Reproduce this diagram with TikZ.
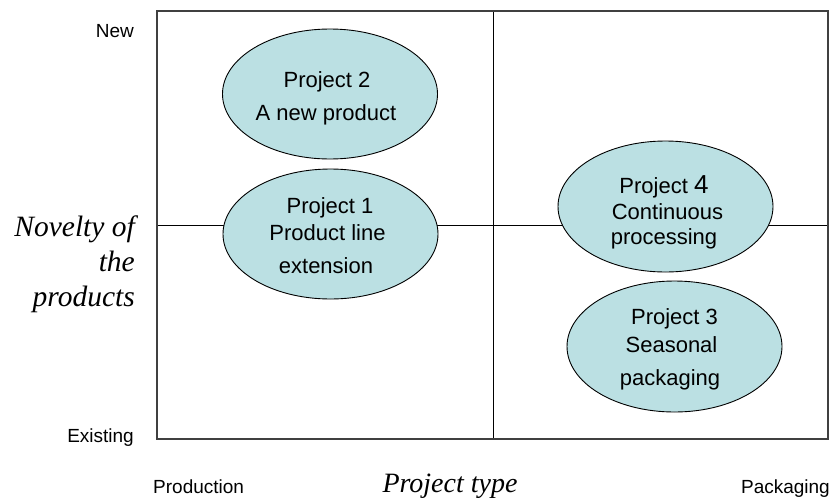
\documentclass[tikz,border=0pt]{standalone}
\usepackage{fontspec}
\setmainfont{Liberation Sans}
\newfontfamily\serifit{Liberation Serif}
\usetikzlibrary{shapes.geometric}
\definecolor{ellfill}{RGB}{187,224,227}
\definecolor{boxgray}{RGB}{64,64,64}
\tikzset{
  ell/.style={ellipse, draw=black, line width=0.9pt, fill=ellfill, inner sep=0pt, minimum width=215pt, minimum height=130pt},
  etxt/.style={anchor=base, inner sep=0pt, font=\fontsize{22}{26}\selectfont},
  small/.style={inner sep=0pt, font=\fontsize{19}{23}\selectfont},
  axis/.style={inner sep=0pt, font=\serifit\itshape\fontsize{28}{35}\selectfont},
  novax/.style={inner sep=0pt, font=\serifit\itshape\fontsize{29.5}{35}\selectfont},
  divider/.style={draw=black, line width=0.9pt},
  frame/.style={draw=boxgray, line width=1.6pt}
}
\begin{document}
\begin{tikzpicture}[x=1pt,y=-1pt]
\useasboundingbox (0,0) rectangle (832,498);
% frame corners and divider ends
\coordinate (tl) at (157,11);
\coordinate (br) at (828,439);
\coordinate (vt) at (493,11);
\coordinate (vb) at (493,439);
\coordinate (hl) at (157,225);
\coordinate (hr) at (828,225);
\draw[divider] (vt) -- (vb);
\draw[divider] (hl) -- (hr);
\draw[frame] (tl) rectangle (br);
% ellipses
\node[ell] (p2) at (330,94) {};
\node[ell] (p1) at (330.5,234) {};
\node[ell, minimum height=131pt] (p4) at (665.5,206.5) {};
\node[ell, minimum height=131pt] (p3) at (674.5,346.5) {};
% ellipse texts
\node[etxt] (p2a) at (327,87) {Project 2};
\node[etxt] (p2b) at (326,120.5) {A new product};
\node[etxt] (p1a) at (330,213) {Project 1};
\node[etxt] (p1b) at (327.5,240) {Product line};
\node[etxt] (p1c) at (326,273) {extension};
\node[etxt] (p4a) at (664,193) {Project {\fontsize{26}{26}\selectfont 4}};
\node[etxt] (p4b) at (667.5,219) {Continuous};
\node[etxt] (p4c) at (664,244) {processing};
\node[etxt] (p3a) at (674.5,324) {Project 3};
\node[etxt] (p3b) at (671.5,352) {Seasonal};
\node[etxt] (p3c) at (670,385) {packaging};
% axis labels
\node[small, anchor=base east] (new) at (134,37) {New};
\node[small, anchor=base east] (exist) at (134,442) {Existing};
\node[small, anchor=base west] (prod) at (153,493) {Production};
\node[small, anchor=base east] (pack) at (830,493) {Packaging};
\node[axis, anchor=base] (ptype) at (450,492) {Project type};
\node[novax, anchor=base east] (nov1) at (135,236) {Novelty of};
\node[novax, anchor=base east] (nov2) at (135,271) {the};
\node[novax, anchor=base east] (nov3) at (135,306) {products};
\end{tikzpicture}
\end{document}
